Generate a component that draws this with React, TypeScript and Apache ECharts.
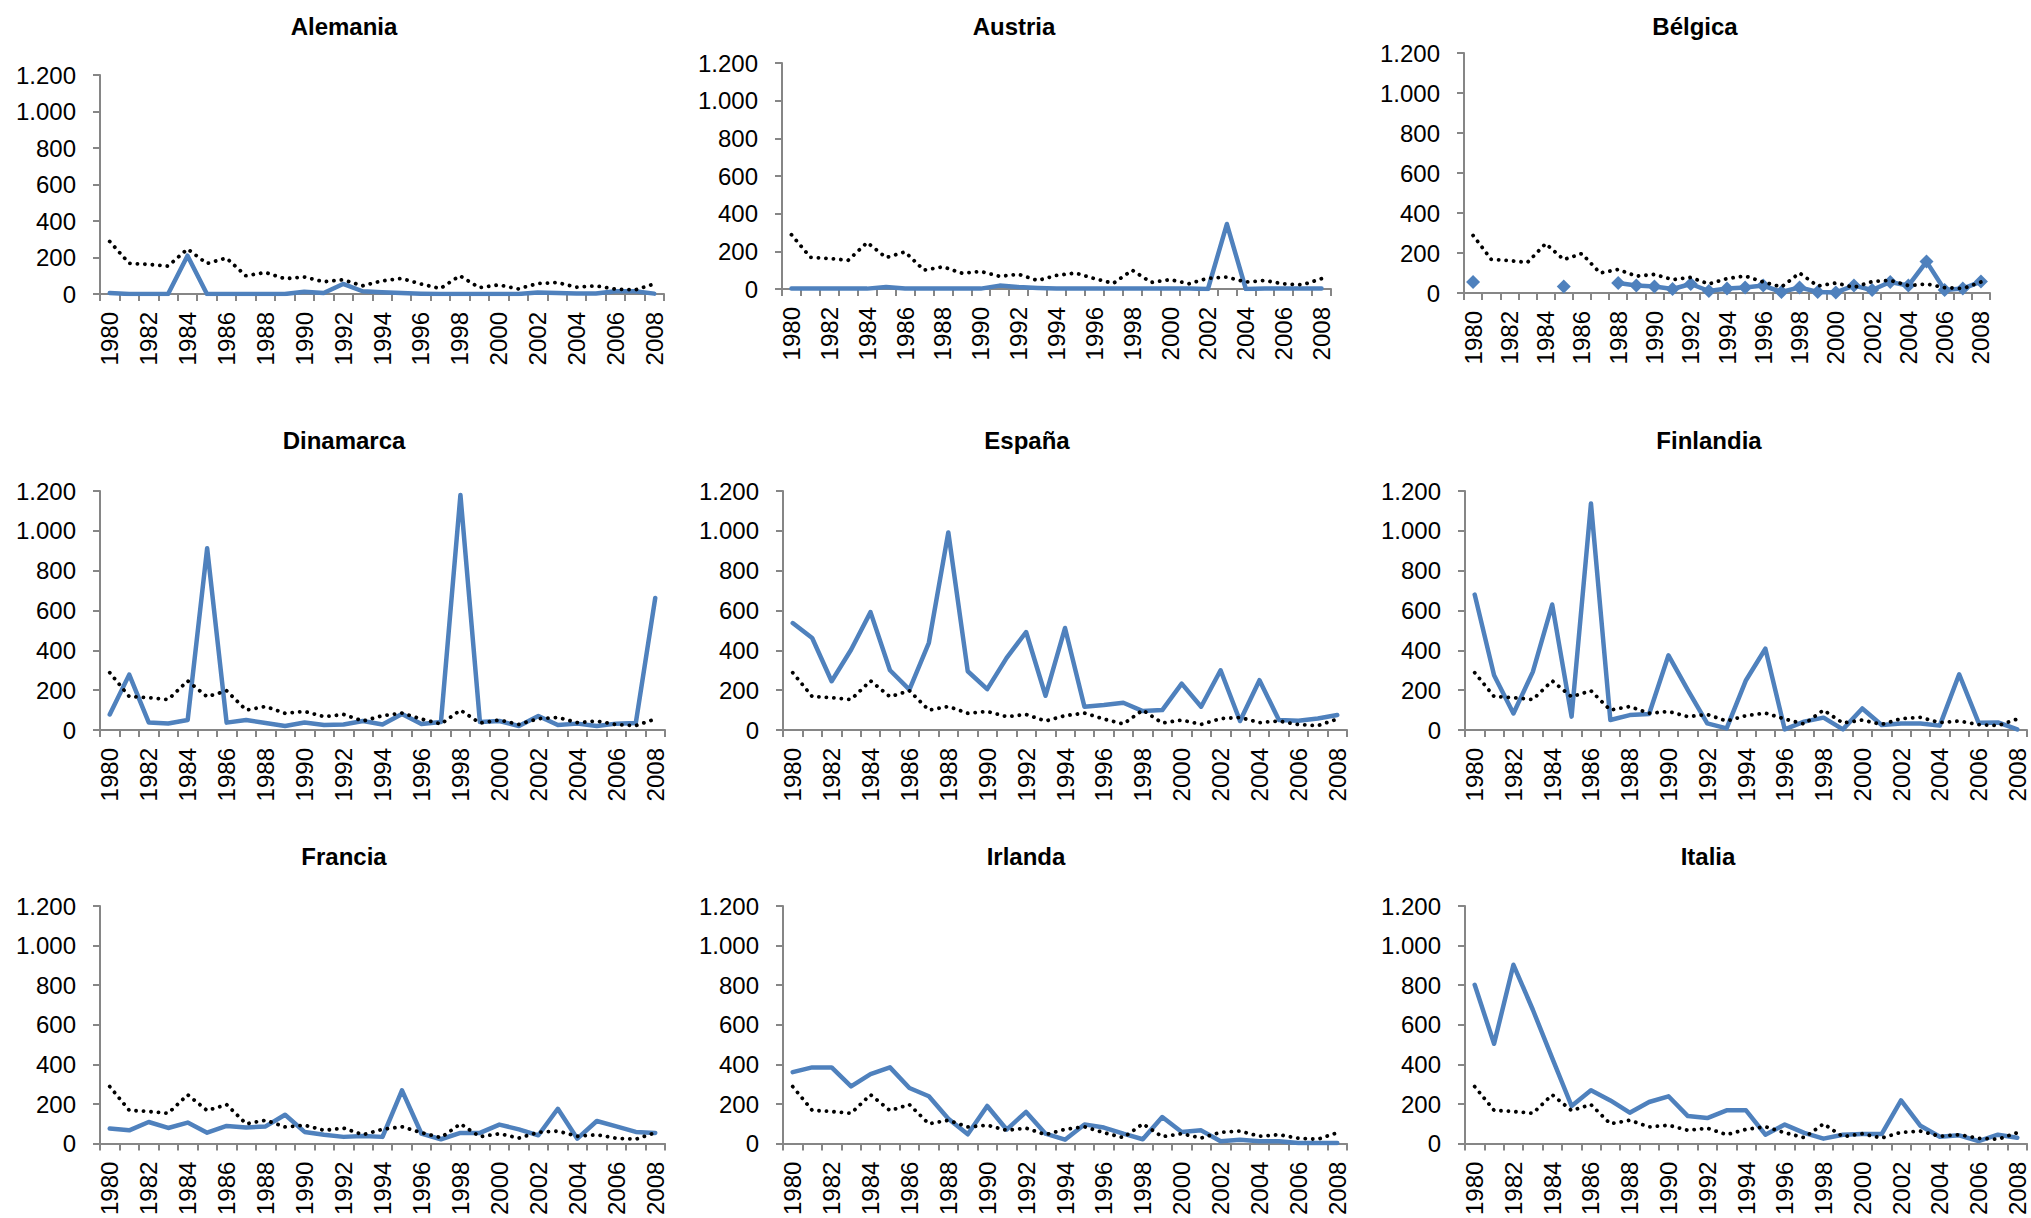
import React, { useEffect, useRef } from 'react';
import * as echarts from 'echarts';

const FONT = '"Liberation Sans", Arial, Helvetica, sans-serif';
const BLUE = '#4F81BD';
const AXIS_GREY = '#868686';

// Years on the category axis
const years = [
  '1980', '1981', '1982', '1983', '1984', '1985', '1986', '1987', '1988', '1989',
  '1990', '1991', '1992', '1993', '1994', '1995', '1996', '1997', '1998', '1999',
  '2000', '2001', '2002', '2003', '2004', '2005', '2006', '2007', '2008',
];

// Y-axis ticks
const yTicks = [0, 200, 400, 600, 800, 1000, 1200];

// Common reference series (dotted line, repeated in every panel)
const referencia = [288, 168, 162, 153, 247, 167, 197, 100, 118, 84, 93, 67, 78, 45, 72, 85, 55, 30, 100, 35, 50, 28, 57, 63, 37, 45, 27, 22, 55];

// Country series
const alemania = [5, 0, 0, 0, 210, 0, 0, 0, 0, 0, 12, 5, 55, 15, 10, 5, 2, 0, 0, 0, 0, 0, 8, 5, 3, 3, 15, 15, 2];
const austria = [3, 2, 2, 2, 2, 10, 3, 2, 2, 2, 2, 18, 10, 5, 2, 2, 2, 3, 2, 2, 2, 2, 0, 345, 0, 2, 2, 2, 2];
const belgica = [55, null, null, null, null, 33, null, null, 50, 37, 32, 20, 45, 10, 22, 28, 37, 5, 28, 5, 3, 37, 15, 55, 37, 157, 15, 22, 57];
const dinamarca = [78, 278, 38, 33, 50, 912, 37, 50, 35, 20, 38, 25, 28, 45, 28, 80, 30, 40, 1180, 40, 45, 20, 70, 25, 32, 20, 32, 35, 663];
const espana = [537, 462, 245, 403, 592, 300, 203, 438, 992, 295, 205, 362, 492, 172, 512, 117, 125, 137, 95, 100, 233, 117, 300, 45, 250, 50, 47, 58, 75];
const finlandia = [680, 275, 83, 292, 630, 67, 1137, 50, 75, 80, 375, 200, 33, 8, 250, 408, 3, 42, 62, 3, 108, 25, 33, 33, 22, 280, 37, 38, 3];
const francia = [76, 67, 109, 79, 106, 55, 89, 81, 87, 146, 59, 45, 34, 39, 34, 269, 50, 22, 54, 54, 96, 72, 42, 176, 25, 114, 87, 59, 54];
const irlanda = [361, 385, 385, 289, 351, 385, 281, 239, 126, 47, 190, 71, 160, 50, 20, 97, 81, 50, 22, 134, 59, 67, 12, 20, 12, 12, 3, 3, 3];
const italia = [802, 504, 903, 676, 432, 190, 269, 218, 156, 210, 239, 139, 129, 168, 168, 45, 96, 54, 25, 45, 48, 48, 218, 90, 35, 42, 13, 45, 30];

// Panel layout: plot rectangle (left, top, right, bottom) and title centre
const panels = [
  { name: 'Alemania', data: alemania, rect: [100, 75, 664, 294], title: [344, 26] },
  { name: 'Austria', data: austria, rect: [782, 63, 1331, 289], title: [1014, 26] },
  { name: 'Bélgica', data: belgica, rect: [1464, 53, 1990, 293], title: [1695, 26], markers: true },
  { name: 'Dinamarca', data: dinamarca, rect: [100, 491, 665, 730], title: [344, 440] },
  { name: 'España', data: espana, rect: [783, 491, 1347, 730], title: [1027, 440] },
  { name: 'Finlandia', data: finlandia, rect: [1465, 491, 2027, 730], title: [1709, 440] },
  { name: 'Francia', data: francia, rect: [100, 906, 665, 1145], title: [344, 856] },
  { name: 'Irlanda', data: irlanda, rect: [783, 906, 1347, 1145], title: [1026, 856] },
  { name: 'Italia', data: italia, rect: [1465, 906, 2027, 1145], title: [1708, 856] },
];

// Spanish thousands separator: 1200 -> "1.200"
const fmt = (v: number) =>
  v >= 1000 ? `${Math.floor(v / 1000)}.${String(v % 1000).padStart(3, '0')}` : String(v);

function buildOption() {
  const axisLine = { show: true, lineStyle: { color: AXIS_GREY, width: 2 } };
  const axisTickStyle = { color: AXIS_GREY, width: 2 };

  const grid = panels.map((p) => ({
    left: p.rect[0],
    top: p.rect[1],
    width: p.rect[2] - p.rect[0],
    height: p.rect[3] - p.rect[1],
  }));

  const xAxis = panels.map((_, i) => ({
    type: 'category',
    gridIndex: i,
    data: years,
    boundaryGap: true,
    axisLine,
    axisTick: { show: true, interval: 0, length: 7, lineStyle: axisTickStyle },
    axisLabel: {
      interval: 1,
      rotate: 90,
      margin: 18,
      fontSize: 24,
      fontFamily: FONT,
      color: '#000',
    },
    splitLine: { show: false },
  }));

  const yAxis = panels.map((_, i) => ({
    type: 'value',
    gridIndex: i,
    min: yTicks[0],
    max: yTicks[yTicks.length - 1],
    interval: yTicks[1] - yTicks[0],
    axisLine,
    axisTick: { show: true, length: 7, lineStyle: axisTickStyle },
    axisLabel: {
      margin: 24,
      fontSize: 24,
      fontFamily: FONT,
      color: '#000',
      formatter: (v: number) => fmt(v),
    },
    splitLine: { show: false },
  }));

  const series: any[] = [];
  panels.forEach((p, i) => {
    series.push({
      type: 'line',
      name: p.name,
      xAxisIndex: i,
      yAxisIndex: i,
      data: p.data,
      connectNulls: false,
      symbol: p.markers ? 'diamond' : 'none',
      symbolSize: 14,
      showSymbol: !!p.markers,
      showAllSymbol: true,
      itemStyle: { color: BLUE },
      lineStyle: { color: BLUE, width: 4.5, join: 'round', cap: 'round' },
      z: 2,
    });
    series.push({
      type: 'line',
      name: 'Referencia',
      xAxisIndex: i,
      yAxisIndex: i,
      data: referencia,
      symbol: 'none',
      showSymbol: false,
      lineStyle: { color: '#000', width: 3.8, type: [0.1, 7.4], cap: 'round' },
      z: 3,
    });
  });

  const graphic = panels.map((p) => ({
    type: 'text',
    x: p.title[0],
    y: p.title[1],
    style: {
      text: p.name,
      fontSize: 24,
      fontWeight: 'bold',
      fontFamily: FONT,
      align: 'center',
      verticalAlign: 'middle',
      fill: '#000',
    },
  }));

  return {
    animation: false,
    backgroundColor: '#fff',
    grid,
    xAxis,
    yAxis,
    series,
    graphic,
  };
}

export default function App() {
  const ref = useRef<HTMLDivElement>(null);

  useEffect(() => {
    if (!ref.current) return;
    const chart = echarts.init(ref.current, null, { renderer: 'svg' });
    chart.setOption(buildOption() as any);
    return () => chart.dispose();
  }, []);

  return (
    <div
      ref={ref}
      style={{ position: 'absolute', left: 0, top: 0, width: 2031, height: 1218, background: '#fff' }}
    />
  );
}
